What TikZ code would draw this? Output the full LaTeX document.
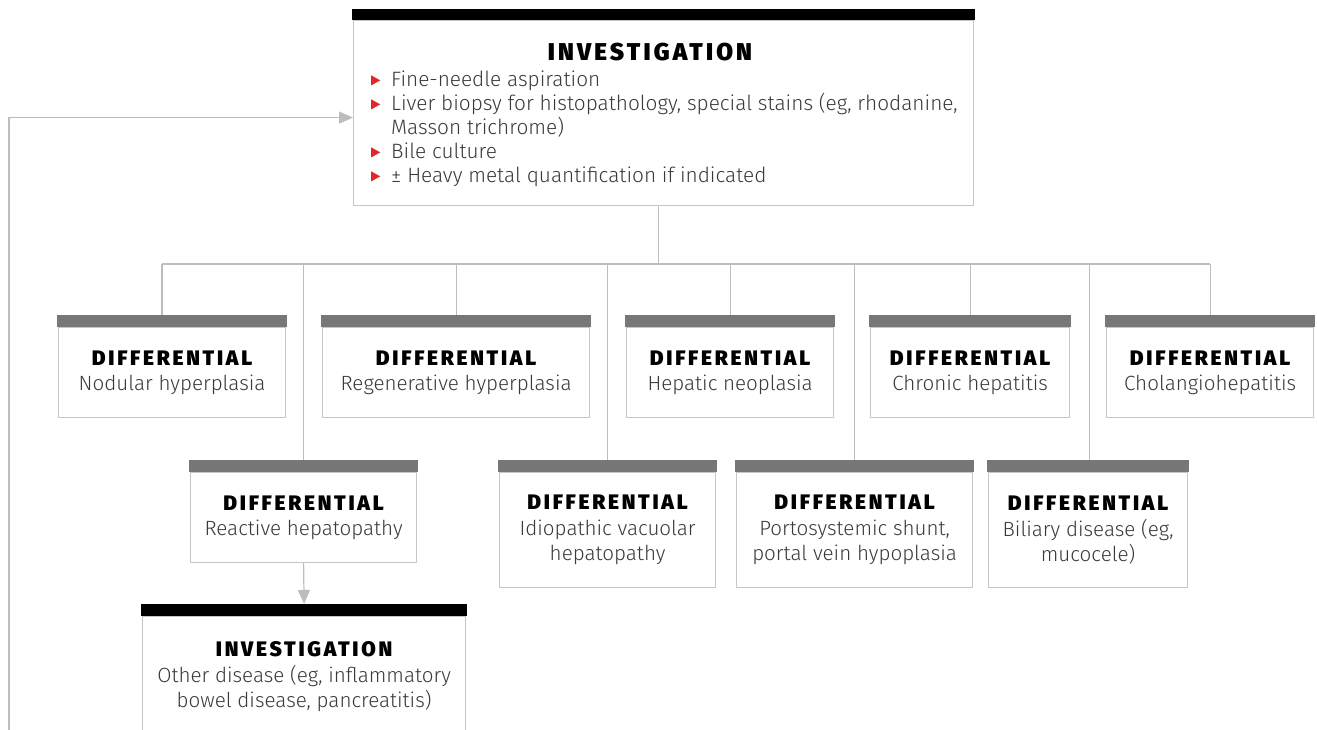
\documentclass[tikz,border=0pt]{standalone}
\usepackage{fontspec}
\setmainfont{Fira Sans Light}
\newfontfamily\ttlfont{Fira Sans Black}[LetterSpace=13]
\usetikzlibrary{arrows.meta}
\definecolor{bargray}{HTML}{77777A}
\definecolor{bordergray}{HTML}{C6C6C6}
\definecolor{linegray}{HTML}{BCBDC0}
\definecolor{bulred}{HTML}{E3262A}
\definecolor{txtgray}{HTML}{3A3A3A}
\pgfdeclarelayer{bg}
\pgfsetlayers{bg,main}
\newcommand\bul{\tikz[baseline=0pt]\fill[bulred] (0pt,1.5pt)--(0pt,11.5pt)--(9pt,6.5pt)--cycle;}
\newcommand\ttl[1]{{\ttlfont\fontsize{21}{27}\selectfont\color{black}#1}}
\newcommand\dbox[7]{%
  \node[box, minimum width=#4, minimum height=#5] (#1) at (#2,#3) {\ttl{#6}\\#7};
  \fill[bargray] ([xshift=-0.6pt]#1.north west) rectangle ([xshift=0.6pt,yshift=12pt]#1.north east);}
\begin{document}
\begin{tikzpicture}[x=1pt,y=-1pt,
  box/.style={draw=bordergray, line width=1.2pt, fill=white, anchor=north west,
    inner sep=0pt, align=center, text=txtgray, font=\fontsize{20.6}{25.5}\selectfont},
  conn/.style={draw=linegray, line width=1.2pt},
  arr/.style={conn, -{Triangle[length=14pt,width=12pt]}}]
\useasboundingbox (0,0) rectangle (1317,730);
\clip (0,0) rectangle (1317,730);
% top investigation box
\node[box, minimum width=620, minimum height=185] (inv) at (353,20) {};
\fill[black] ([xshift=-0.6pt]inv.north west) rectangle ([xshift=0.6pt,yshift=11pt]inv.north east);
\node[inner sep=0pt] (invt) at (650,52) {{\ttlfont\fontsize{24.3}{27}\selectfont INVESTIGATION}};
\node[anchor=north west, inner sep=0pt, align=left, text=txtgray,
  font=\fontsize{20.8}{24}\selectfont] (invl) at (371,71)
 {\makebox[20pt][l]{\bul}Fine-needle aspiration\\
  \makebox[20pt][l]{\bul}Liver biopsy for histopathology, special stains (eg, rhodanine,\\
  \hspace*{20pt}Masson trichrome)\\
  \makebox[20pt][l]{\bul}Bile culture\\
  \makebox[20pt][l]{\bul}\textpm\ Heavy metal quantification if indicated};
% row 1
\dbox{nod}{58}{327}{227}{90}{DIFFERENTIAL}{Nodular hyperplasia}
\dbox{reg}{322}{327}{267}{90}{DIFFERENTIAL}{Regenerative hyperplasia}
\dbox{hep}{626}{327}{207}{90}{DIFFERENTIAL}{Hepatic neoplasia}
\dbox{chr}{870}{327}{199}{90}{DIFFERENTIAL}{Chronic hepatitis}
\dbox{cho}{1106}{327}{207}{90}{DIFFERENTIAL}{Cholangiohepatitis}
% row 2
\dbox{rea}{190}{472}{226}{90}{DIFFERENTIAL}{Reactive hepatopathy}
\dbox{idi}{499}{472}{216}{115}{DIFFERENTIAL}{Idiopathic vacuolar\\hepatopathy}
\dbox{por}{736}{472}{236}{115}{DIFFERENTIAL}{Portosystemic shunt,\\portal vein hypoplasia}
\dbox{bil}{988}{472}{199}{115}{DIFFERENTIAL}{Biliary disease (eg,\\mucocele)}
% bottom investigation box
\node[box, minimum width=323, minimum height=120] (oth) at (142,616)
 {\ttl{INVESTIGATION}\\Other disease (eg, inflammatory\\bowel disease, pancreatitis)};
\fill[black] ([xshift=-0.6pt]oth.north west) rectangle ([xshift=0.6pt,yshift=12pt]oth.north east);
% connectors
\coordinate (j) at ([xshift=-5pt]inv.south |- 0,264);
\coordinate (hl) at (162,264);
\coordinate (hr) at (1210,264);
\coordinate (fb) at (9,740);
\begin{pgfonlayer}{bg}
\draw[conn] ([xshift=-5pt]inv.south) -- (j);
\draw[conn] (hl) -- (hr);
\draw[conn] (hl) -- (hl |- nod.north);
\draw[conn] (reg.north |- hl) -- (reg.north);
\draw[conn] (hep.north |- hl) -- (hep.north);
\draw[conn] (chr.north |- hl) -- (chr.north);
\draw[conn] (cho.north |- hl) -- (cho.north);
\draw[conn] (rea.north |- hl) -- (rea.north);
\draw[conn] (idi.north |- hl) -- (idi.north);
\draw[conn] (por.north |- hl) -- (por.north);
\draw[conn] ([xshift=1.5pt]bil.north |- hl) -- ([xshift=1.5pt]bil.north);
\end{pgfonlayer}
\draw[arr] (rea.south) -- ([yshift=12pt]oth.north);
\draw[arr] (fb) |- ([yshift=-4.5pt]inv.west);
\end{tikzpicture}
\end{document}
